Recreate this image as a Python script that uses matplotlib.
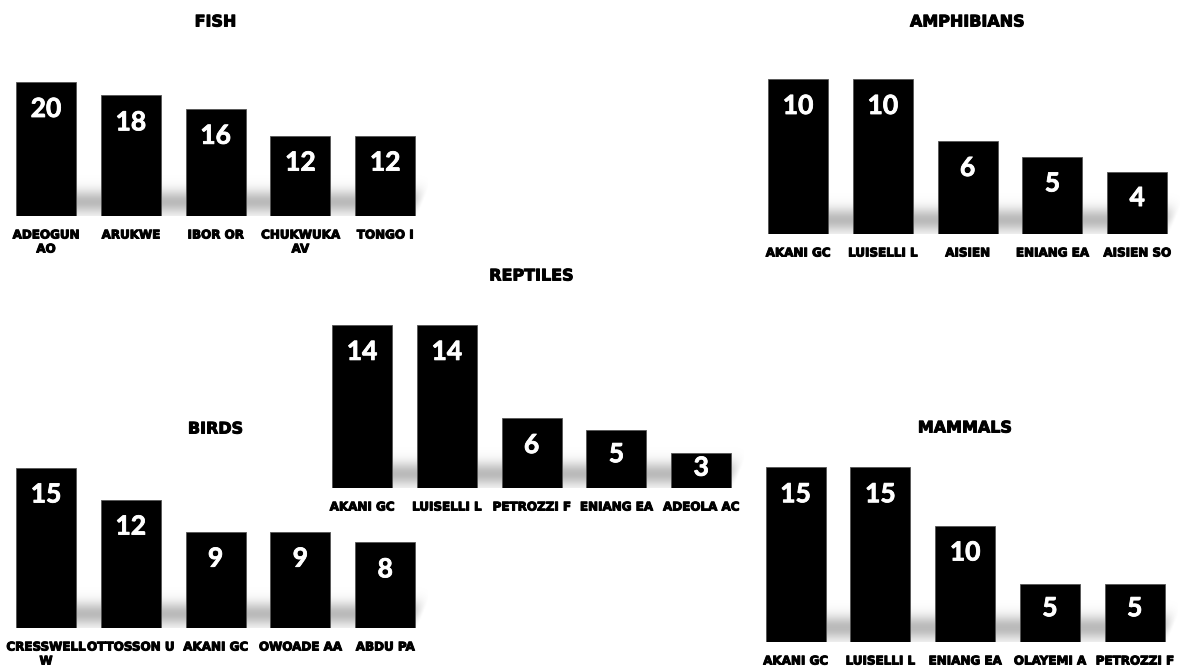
import matplotlib.pyplot as plt
import matplotlib.patheffects as pe
import numpy as np

W, H = 1182, 666

fish_names = ['ADEOGUN\nAO', 'ARUKWE', 'IBOR OR', 'CHUKWUKA\nAV', 'TONGO I']
fish_counts = [20, 18, 16, 12, 12]

amph_names = ['AKANI GC', 'LUISELLI L', 'AISIEN', 'ENIANG EA', 'AISIEN SO']
amph_counts = [10, 10, 6, 5, 4]

rept_names = ['AKANI GC', 'LUISELLI L', 'PETROZZI F', 'ENIANG EA', 'ADEOLA AC']
rept_counts = [14, 14, 6, 5, 3]

bird_names = ['CRESSWELL\nW', 'OTTOSSON U', 'AKANI GC', 'OWOADE AA', 'ABDU PA']
bird_counts = [15, 12, 9, 9, 8]

mamm_names = ['AKANI GC', 'LUISELLI L', 'ENIANG EA', 'OLAYEMI A', 'PETROZZI F']
mamm_counts = [15, 15, 10, 5, 5]

fig = plt.figure(figsize=(W / 100, H / 100), dpi=100)
heavy = [pe.withStroke(linewidth=0.7, foreground='black')]
num_fx = [pe.withStroke(linewidth=0.6, foreground='white')]


def shadow(ax, ppu, n):
    # soft grey band behind the bars, like the excel perspective shadow
    top_px = 42
    ys = np.linspace(0, top_px, 80)
    xs = np.linspace(-0.35, n - 0.4, 300)
    X, Y = np.meshgrid(xs, ys)
    a = np.exp(-((Y - 14) / 12.0) ** 2)
    x_end = (n - 0.62) + 0.2 * (Y / top_px)
    a *= np.clip((x_end - X) / 0.15, 0, 1)
    img = np.zeros((len(ys), len(xs), 4))
    img[..., :3] = 0.55
    img[..., 3] = 0.6 * a
    ax.imshow(img, origin='lower', aspect='auto', zorder=1,
              extent=(xs[0], xs[-1], 0, top_px / ppu), interpolation='bilinear')


def panel(title, names, counts, x0, base, ppu, title_y, step=84.8):
    n = len(counts)
    h_px = max(counts) * ppu + 12
    ax = fig.add_axes([(x0 - step / 2) / W, 1 - base / H, step * n / W, h_px / H])
    shadow(ax, ppu, n)
    xs = np.arange(n)
    ax.bar(xs, counts, width=60 / step, color='black', edgecolor='#555555', linewidth=0.6, zorder=2)
    for x, v in zip(xs, counts):
        off = min(27, v * ppu * 0.42)
        ax.annotate(str(v), (x, v), xytext=(0, -off * 0.72), textcoords='offset points',
                    ha='center', va='center', color='white', fontsize=19,
                    fontweight='bold', family='Lato', zorder=3, path_effects=num_fx)
    ax.set_xlim(-0.5, n - 0.5)
    ax.set_ylim(0, h_px / ppu)
    ax.set_xticks(xs, names, fontsize=8.6, fontweight='bold', linespacing=1.1)
    for lab in ax.get_xticklabels():
        lab.set_path_effects(heavy)
    ax.tick_params(axis='x', length=0, pad=9)
    ax.set_yticks([])
    for s in ax.spines.values():
        s.set_visible(False)
    ax.patch.set_alpha(0)
    cx = x0 - step / 2 + step * n / 2
    fig.text(cx / W, 1 - title_y / H, title, ha='center', va='center',
             fontsize=11.5, fontweight='bold', path_effects=heavy)
    return ax


panel('FISH', fish_names, fish_counts, 46, 216, 6.7, 22)
panel('AMPHIBIANS', amph_names, amph_counts, 798, 234, 15.5, 22)
panel('REPTILES', rept_names, rept_counts, 362, 488, 11.65, 276)
panel('BIRDS', bird_names, bird_counts, 46, 628, 10.7, 429)
panel('MAMMALS', mamm_names, mamm_counts, 795.5, 642, 11.65, 428)

fig.savefig('out.png', dpi=100, facecolor='white')
